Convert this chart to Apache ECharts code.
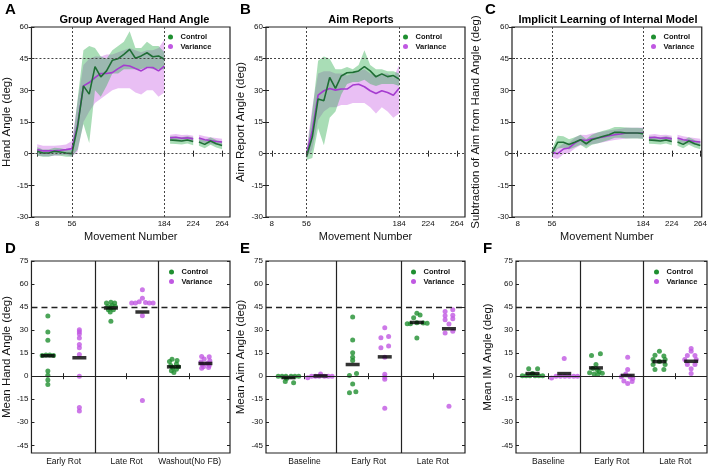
<!DOCTYPE html>
<html><head><meta charset="utf-8">
<script src="https://cdn.jsdelivr.net/npm/echarts@6/dist/echarts.min.js"></script>
<style>html,body{margin:0;padding:0;background:#fff}#c{width:710px;height:466px}</style>
</head><body><div id="c"></div>
<script>
// ---------------- DATA ----------------
const xTickLabels = [8, 56, 184, 224, 264];
const yBotTicks = [-45, -30, -15, 0, 15, 30, 45, 60, 75];
const catsD = ['Early Rot', 'Late Rot', 'Washout(No FB)'];
const catsEF = ['Baseline', 'Early Rot', 'Late Rot'];

// movement bins
const aX = [8, 16, 24, 32, 40, 48, 56, 64, 72, 80, 88, 96, 104, 112, 120, 128, 136, 144, 152, 160, 168, 176, 184];
const rotX = [56, 64, 72, 80, 88, 96, 104, 112, 120, 128, 136, 144, 152, 160, 168, 176, 184];
const wash1X = [192, 200, 208, 216, 224];
const wash2X = [232, 240, 248, 256, 264];

// Panel A: hand angle (baseline + rotation)
const handCtrl   = [1.1, 0.3, 0.3, 1.1, 0.8, 0.3, 0.0, 13, 32.1, 28.2, 41.2, 36.4, 39.2, 44.2, 45.0, 47.0, 49.4, 45.2, 46.3, 47.8, 45.9, 46.3, 44.7];
const handCtrlLo = [-1.0, -1.5, -1.5, -0.8, -1.0, -1.5, -1.5, 2, 14, 5, 30, 27, 32, 38, 38, 40, 40, 40, 40, 41, 40, 40, 40];
const handCtrlHi = [3.0, 2.0, 2.0, 2.8, 2.6, 2.0, 1.8, 26, 49, 51, 50, 46, 45, 49, 51, 53, 58, 50, 50, 53, 51, 51, 48];
const handVar    = [1.9, 1.3, 1.3, 1.4, 1.6, 1.9, 2.4, 14, 32.1, 33.7, 36.0, 38.0, 38.0, 38.4, 40.3, 41.9, 41.5, 40.3, 39.2, 40.8, 40.8, 39.2, 41.5];
const handVarLo  = [-0.8, -1.2, -1.2, -1.0, -0.8, -0.6, -1.5, 1, 15, 20, 24, 26, 28, 30, 31, 31, 31, 29, 28, 30, 30, 27, 29];
const handVarHi  = [4.5, 3.8, 3.8, 3.8, 4.0, 4.4, 6.0, 25, 42, 45, 46, 46, 47, 47, 48, 49, 50, 49, 48, 49, 49, 50, 54];

// washout (no feedback) hand angle, shown in A and C
const w1Ctrl = [6.5, 6.3, 6.0, 6.5, 5.8], w1CtrlLo = [4.7, 4.6, 4.3, 4.8, 4.0], w1CtrlHi = [8.3, 8.0, 7.8, 8.2, 7.6];
const w1Var  = [7.5, 7.8, 7.3, 7.5, 7.0], w1VarLo  = [6.0, 6.3, 5.8, 6.0, 5.5], w1VarHi  = [9.0, 9.3, 8.8, 9.0, 8.5];
const w2Ctrl = [5.5, 4.4, 6.0, 4.7, 3.9], w2CtrlLo = [3.7, 2.6, 4.2, 2.9, 2.1], w2CtrlHi = [7.3, 6.2, 7.8, 6.5, 5.7];
const w2Var  = [7.4, 6.6, 6.2, 5.8, 5.5], w2VarLo  = [5.8, 5.0, 4.6, 4.2, 3.9], w2VarHi  = [9.0, 8.2, 7.8, 7.4, 7.1];

// Panel B: aim reports
const aimCtrl   = [-1.5, 8, 25.9, 25.1, 36.1, 30.9, 36.8, 38.3, 38.5, 39.2, 41.2, 39.2, 36.4, 37.8, 36.5, 37.0, 35.3];
const aimCtrlLo = [-3, -2, 12, 4, 17, 20, 28, 33, 34, 34, 35, 33, 32, 33, 33, 33, 32];
const aimCtrlHi = [0, 20, 44, 46, 45, 40, 40, 41, 40, 42, 49, 42, 40, 40, 39, 39, 38];
const aimVar    = [-0.3, 11, 27.7, 29.8, 30.9, 30.1, 30.6, 30.6, 32.5, 32.9, 31.7, 29.8, 28.5, 29.8, 29.0, 27.7, 31.0];
const aimVarLo  = [-2, 2, 16, 20, 22, 22, 23, 23, 24, 24, 24, 22, 19, 22, 20, 17, 19];
const aimVarHi  = [2, 22, 38, 39, 39, 38, 38, 37, 38, 39, 40, 38, 37, 38, 38, 36, 42];

// Panel C: implicit learning
const imCtrl   = [0.3, 5.4, 5.4, 4.3, 5.4, 6.6, 4.7, 6.6, 7.4, 8.2, 9.0, 10.1, 10.1, 9.8, 9.8, 9.8, 9.5];
const imCtrlLo = [-1.5, 2.5, 2.8, 2.0, 3.0, 4.2, 2.5, 4.2, 4.8, 5.6, 6.5, 7.5, 7.5, 7.2, 7.2, 7.2, 7.0];
const imCtrlHi = [2.0, 8.5, 8.2, 6.8, 7.8, 9.0, 7.0, 9.0, 10.0, 10.8, 11.6, 12.6, 12.6, 12.4, 12.3, 12.3, 12.0];
const imVar    = [0.6, 0.0, 2.2, 2.7, 5.0, 6.6, 6.2, 7.0, 7.4, 7.9, 8.5, 9.0, 9.3, 9.8, 9.8, 9.8, 9.8];
const imVarLo  = [-1.8, -2.5, -0.3, 0.3, 2.5, 4.0, 3.7, 4.5, 4.9, 5.4, 6.0, 6.5, 6.8, 7.2, 7.3, 7.3, 7.2];
const imVarHi  = [3.0, 2.8, 4.8, 5.2, 7.5, 9.0, 8.8, 9.6, 10.0, 10.5, 11.0, 11.5, 11.8, 12.3, 12.3, 12.3, 12.4];

// Panel D: mean hand angle per subject (values, horizontal jitter)
const dCtrlEarly = [39.2, 28.8, 23.4, 13.5, 13.8, 13.8, 13.5, 3.4, 0.6, -2.4, -5.4];
const dCtrlEarlyJ = [0, 0, 0, -0.09, -0.03, 0.03, 0.09, 0, 0, 0, 0];
const dVarEarly = [30.3, 29.0, 27.4, 24.8, 20.6, 18.6, 14.2, 0.0, -20.4, -22.7];
const dVarEarlyJ = [0, 0, 0, 0, 0, 0, 0, 0, 0, 0];
const dCtrlLate = [47.6, 48.2, 47.6, 45.4, 46.1, 45.4, 43.3, 43.3, 41.8, 35.7, 44.5];
const dCtrlLateJ = [-0.07, 0, 0.06, -0.05, 0.02, 0.07, -0.04, 0.04, -0.01, 0, 0];
const dVarLate = [56.3, 50.8, 48.5, 48.0, 47.6, 47.6, 47.6, 47.6, 39.4, -15.8];
const dVarLateJ = [0, 0, -0.05, 0.05, -0.17, -0.11, 0.11, 0.17, 0, 0];
const dCtrlWash = [11.0, 10.2, 9.6, 8.0, 7.0, 6.2, 5.5, 4.6, 3.6, 2.4];
const dCtrlWashJ = [-0.03, 0.05, -0.07, 0.04, -0.05, 0.07, -0.02, 0.04, -0.04, 0];
const dVarWash = [12.8, 12.6, 11.2, 10.0, 9.2, 8.2, 7.6, 7.0, 6.2, 5.6, 5.2];
const dVarWashJ = [-0.06, 0.06, -0.02, 0.07, -0.07, 0.03, -0.05, 0.06, -0.03, 0.05, -0.06];
const dCtrlMeans = [13.3, 44.4, 6.1];
const dVarMeans = [12.0, 41.8, 8.3];

// Panel E: mean aim angle
const eCtrlBase = [0, 0, 0, 0, 0, 0, -1.5, -3.4, -4.3];
const eCtrlBaseJ = [-0.16, -0.10, -0.04, 0.04, 0.10, 0.16, -0.03, -0.05, 0.08];
const eVarBase = [-1.0, 0, 0, 0, 0, 0, 0, 1.5];
const eVarBaseJ = [-0.20, -0.14, -0.08, -0.02, 0.06, 0.12, 0.18, 0];
const eCtrlEarly = [38.6, 23.6, 15.2, 12.3, 10.2, 1.7, 0.4, -5.0, -10.1, -10.8];
const eCtrlEarlyJ = [0, 0, 0, 0, 0, 0.06, -0.05, 0, 0.05, -0.05];
const eVarEarly = [31.6, 25.0, 25.8, 18.6, 19.6, 12.4, 1.2, -0.6, -2.0, -20.8];
const eVarEarlyJ = [0, -0.06, 0.06, -0.06, 0.06, 0, 0, 0, 0, 0];
const eCtrlLate = [41.0, 39.8, 38.0, 34.2, 34.2, 34.8, 34.6, 34.4, 24.9];
const eCtrlLateJ = [0, 0.05, -0.05, -0.15, -0.10, 0, 0.10, 0.16, 0];
const eVarLate = [42.2, 43.2, 39.4, 39.6, 36.8, 37.4, 34.0, 28.1, 29.2, -19.5];
const eVarLateJ = [-0.06, 0.06, -0.06, 0.06, -0.06, 0.06, 0, -0.06, 0.06, 0];
const eCtrlMeans = [-0.9, 7.6, 35.0];
const eVarMeans = [0.2, 12.6, 30.9];

// Panel F: mean internal model angle
const fCtrlBase = [0.3, 0.3, 0.3, 0.3, 0.3, 0.3, 4.8, 4.8, 1.8];
const fCtrlBaseJ = [-0.16, -0.10, -0.04, 0.04, 0.10, 0.16, -0.06, 0.08, 0];
const fVarBase = [-1.1, 0, 0, 0, 0, 0, 0, 11.5];
const fVarBaseJ = [-0.20, -0.13, -0.06, 0.01, 0.08, 0.15, 0.21, 0];
const fCtrlEarly = [13.4, 14.6, 7.6, 5.0, 3.0, 2.2, 1.5, 1.2, 2.0, 4.2];
const fCtrlEarlyJ = [-0.07, 0.07, 0, -0.05, 0.05, -0.10, -0.03, 0.03, 0.10, 0.02];
const fVarEarly = [12.3, 4.3, 1.5, -0.4, -0.6, -3.2, -4.7, -3.5, -1.5];
const fVarEarlyJ = [0, 0, -0.03, -0.10, 0.04, -0.06, 0, 0.07, 0.08];
const fCtrlLate = [16.2, 13.6, 13.2, 10.8, 10.8, 9.5, 7.6, 7.6, 4.3, 4.3];
const fCtrlLateJ = [0, -0.07, 0.07, -0.10, 0.09, 0, -0.10, 0.09, -0.07, 0.07];
const fVarLate = [18.0, 16.2, 13.4, 13.4, 10.8, 10.8, 7.6, 7.6, 4.8, 1.7];
const fVarLateJ = [0, 0, -0.06, 0.06, -0.10, 0.08, -0.06, 0.06, 0, 0];
const fCtrlMeans = [1.7, 5.4, 9.5];
const fVarMeans = [1.7, 0.5, 9.7];

// ---------------- STYLE ----------------
const FONT = '"Liberation Sans", Arial, Helvetica, sans-serif';
const C_LINE = '#1f6e35', V_LINE = '#a53cd0';
const C_BAND = 'rgba(50,175,80,0.42)', V_BAND = 'rgba(200,95,228,0.40)';
const C_DOT = '#1f8f30', V_DOT = '#c058e2';
const INK = '#111';

const topGrids = [{left: 31, width: 199, max: 275}, {left: 266, width: 199, max: 275}, {left: 512, width: 191, max: 266}];
const botGrids = [{left: 31, width: 199, min: 0.49, max: 3.64}, {left: 266, width: 199, min: 0.4, max: 3.5}, {left: 516, width: 191, min: 0.49, max: 3.5}];
const topNames = ['Hand Angle (deg)', 'Aim Report Angle (deg)', 'Subtraction of Aim from Hand Angle (deg)'];
const topNameGaps = [17, 19, 30];
const botNames = ['Mean Hand Angle (deg)', 'Mean Aim Angle (deg)', 'Mean IM Angle (deg)'];
const botNameGaps = [17, 19, 22];

const grid = [], xAxis = [], yAxis = [], series = [], legend = [];
const pairs = (xs, ys) => xs.map((x, i) => [x, ys[i]]);

topGrids.forEach((g, i) => {
  grid.push({left: g.left, top: 27, width: g.width, height: 190, show: true, borderColor: '#222', borderWidth: 1.2, backgroundColor: 'transparent'});
  xAxis.push({gridIndex: i, type: 'value', min: 0, max: g.max, axisLine: {show: false},
    axisTick: {inside: true, length: 3, customValues: xTickLabels, lineStyle: {color: '#222'}},
    axisLabel: {customValues: xTickLabels, fontSize: 8, margin: 3, color: INK, fontFamily: FONT},
    splitLine: {show: false}, name: 'Movement Number', nameLocation: 'middle', nameGap: 14,
    nameTextStyle: {fontSize: 11, color: INK, fontFamily: FONT}});
  xAxis.push({gridIndex: i, type: 'value', position: 'top', min: 0, max: g.max, axisLine: {show: false},
    axisTick: {inside: true, length: 3, customValues: xTickLabels, lineStyle: {color: '#222'}},
    axisLabel: {show: false}, splitLine: {show: false}});
  yAxis.push({gridIndex: i, type: 'value', min: -30, max: 60, interval: 15, axisLine: {show: false},
    axisTick: {inside: true, length: 3, lineStyle: {color: '#222'}},
    axisLabel: {fontSize: 8, margin: 3, color: INK, fontFamily: FONT}, splitLine: {show: false},
    name: topNames[i], nameLocation: 'middle', nameGap: topNameGaps[i],
    nameTextStyle: {fontSize: 11.5, color: INK, fontFamily: FONT}});
  yAxis.push({gridIndex: i, type: 'value', position: 'right', min: -30, max: 60, interval: 15, axisLine: {show: false},
    axisTick: {inside: true, length: 3, lineStyle: {color: '#222'}}, axisLabel: {show: false}, splitLine: {show: false}});
});
botGrids.forEach((g, j) => {
  const i = j + 3;
  const cats = j === 0 ? catsD : catsEF;
  grid.push({left: g.left, top: 261, width: g.width, height: 192, show: true, borderColor: '#222', borderWidth: 1.2, backgroundColor: 'transparent'});
  xAxis.push({gridIndex: i, type: 'value', min: g.min, max: g.max, axisLine: {show: false},
    axisTick: {inside: true, length: 3, customValues: [1, 2, 3], lineStyle: {color: '#222'}},
    axisLabel: {customValues: [1, 2, 3], formatter: v => cats[Math.round(v) - 1], fontSize: 8.5, margin: 4, color: INK, fontFamily: FONT},
    splitLine: {show: false}});
  xAxis.push({gridIndex: i, type: 'value', position: 'top', min: g.min, max: g.max, axisLine: {show: false},
    axisTick: {inside: true, length: 3, customValues: [1, 2, 3], lineStyle: {color: '#222'}},
    axisLabel: {show: false}, splitLine: {show: false}});
  yAxis.push({gridIndex: i, type: 'value', min: -50, max: 75, axisLine: {show: false},
    axisTick: {inside: true, length: 3, customValues: yBotTicks, lineStyle: {color: '#222'}},
    axisLabel: {customValues: yBotTicks, fontSize: 8, margin: 3, color: INK, fontFamily: FONT}, splitLine: {show: false},
    name: botNames[j], nameLocation: 'middle', nameGap: botNameGaps[j],
    nameTextStyle: {fontSize: 11.5, color: INK, fontFamily: FONT}});
  yAxis.push({gridIndex: i, type: 'value', position: 'right', min: -50, max: 75, axisLine: {show: false},
    axisTick: {inside: true, length: 3, customValues: yBotTicks, lineStyle: {color: '#222'}},
    axisLabel: {show: false}, splitLine: {show: false}});
});

// shaded error band: one polygon through the axis scales
function band(g, xs, lo, hi, color) {
  series.push({type: 'custom', xAxisIndex: 2 * g, yAxisIndex: 2 * g, silent: true, z: 1, animation: false,
    data: xs.map((x, k) => [x, lo[k], hi[k]]),
    encode: {x: 0, y: [1, 2]},
    renderItem: function (params, api) {
      if (params.dataIndex !== 0) return null;
      const pts = [];
      for (let k = 0; k < xs.length; k++) pts.push(api.coord([xs[k], hi[k]]));
      for (let k = xs.length - 1; k >= 0; k--) pts.push(api.coord([xs[k], lo[k]]));
      return {type: 'polygon', shape: {points: pts}, style: {fill: color, stroke: null}};
    }});
}
function line(g, name, xs, ys, color, extra) {
  series.push(Object.assign({type: 'line', name: name, xAxisIndex: 2 * g, yAxisIndex: 2 * g, data: pairs(xs, ys),
    symbol: 'none', lineStyle: {color: color, width: 1.6}, itemStyle: {color: color}, z: 3, silent: true, animation: false}, extra || {}));
}
const dotted = {type: [2, 2], color: '#444', width: 1};
function topRefLines() {
  return {markLine: {silent: true, symbol: 'none', label: {show: false}, animation: false, lineStyle: dotted,
    data: [{yAxis: 45}, {yAxis: 0}, {xAxis: 56}, {xAxis: 184}]}};
}

// Panel A
band(0, aX, handVarLo, handVarHi, V_BAND);
band(0, aX, handCtrlLo, handCtrlHi, C_BAND);
band(0, wash1X, w1VarLo, w1VarHi, V_BAND); band(0, wash1X, w1CtrlLo, w1CtrlHi, C_BAND);
band(0, wash2X, w2VarLo, w2VarHi, V_BAND); band(0, wash2X, w2CtrlLo, w2CtrlHi, C_BAND);
line(0, 'Variance', aX, handVar, V_LINE);
line(0, 'Control', aX, handCtrl, C_LINE, topRefLines());
line(0, 'Variance', wash1X, w1Var, V_LINE); line(0, 'Control', wash1X, w1Ctrl, C_LINE);
line(0, 'Variance', wash2X, w2Var, V_LINE); line(0, 'Control', wash2X, w2Ctrl, C_LINE);
// Panel B
band(1, rotX, aimVarLo, aimVarHi, V_BAND);
band(1, rotX, aimCtrlLo, aimCtrlHi, C_BAND);
line(1, 'Variance', rotX, aimVar, V_LINE);
line(1, 'Control', rotX, aimCtrl, C_LINE, topRefLines());
// Panel C
band(2, rotX, imVarLo, imVarHi, V_BAND);
band(2, rotX, imCtrlLo, imCtrlHi, C_BAND);
band(2, wash1X, w1VarLo, w1VarHi, V_BAND); band(2, wash1X, w1CtrlLo, w1CtrlHi, C_BAND);
band(2, wash2X, w2VarLo, w2VarHi, V_BAND); band(2, wash2X, w2CtrlLo, w2CtrlHi, C_BAND);
line(2, 'Variance', rotX, imVar, V_LINE);
line(2, 'Control', rotX, imCtrl, C_LINE, topRefLines());
line(2, 'Variance', wash1X, w1Var, V_LINE); line(2, 'Control', wash1X, w1Ctrl, C_LINE);
line(2, 'Variance', wash2X, w2Var, V_LINE); line(2, 'Control', wash2X, w2Ctrl, C_LINE);

// Bottom panels
function dots(g, name, center, ys, js, color, extra) {
  series.push(Object.assign({type: 'scatter', name: name, xAxisIndex: 2 * g, yAxisIndex: 2 * g,
    data: ys.map((y, k) => [center + js[k], y]), symbolSize: 5, itemStyle: {color: color}, z: 3, silent: true, animation: false}, extra || {}));
}
function means(g, centers, ms) {
  series.push({type: 'scatter', xAxisIndex: 2 * g, yAxisIndex: 2 * g, data: centers.map((c, k) => [c, ms[k]]),
    symbol: 'rect', symbolSize: [14, 3.5], itemStyle: {color: '#000'}, z: 4, silent: true, animation: false});
}
function botRefLines() {
  return {markLine: {silent: true, symbol: 'none', label: {show: false}, animation: false,
    data: [
      {xAxis: 1.5, lineStyle: {type: 'solid', color: '#222', width: 1.2}},
      {xAxis: 2.5, lineStyle: {type: 'solid', color: '#222', width: 1.2}},
      {yAxis: 0, lineStyle: {type: 'solid', color: '#222', width: 1.2}},
      {yAxis: 45, lineStyle: {type: [6, 4], color: '#222', width: 1.4}}
    ]}};
}
const cc = [0.75, 1.75, 2.75], vc = [1.25, 2.25, 3.25];
// D
dots(3, 'Control', cc[0], dCtrlEarly, dCtrlEarlyJ, C_DOT, botRefLines());
dots(3, 'Control', cc[1], dCtrlLate, dCtrlLateJ, C_DOT);
dots(3, 'Control', cc[2], dCtrlWash, dCtrlWashJ, C_DOT);
dots(3, 'Variance', vc[0], dVarEarly, dVarEarlyJ, V_DOT);
dots(3, 'Variance', vc[1], dVarLate, dVarLateJ, V_DOT);
dots(3, 'Variance', vc[2], dVarWash, dVarWashJ, V_DOT);
means(3, cc, dCtrlMeans); means(3, vc, dVarMeans);
// E
dots(4, 'Control', cc[0], eCtrlBase, eCtrlBaseJ, C_DOT, botRefLines());
dots(4, 'Control', cc[1], eCtrlEarly, eCtrlEarlyJ, C_DOT);
dots(4, 'Control', cc[2], eCtrlLate, eCtrlLateJ, C_DOT);
dots(4, 'Variance', vc[0], eVarBase, eVarBaseJ, V_DOT);
dots(4, 'Variance', vc[1], eVarEarly, eVarEarlyJ, V_DOT);
dots(4, 'Variance', vc[2], eVarLate, eVarLateJ, V_DOT);
means(4, cc, eCtrlMeans); means(4, vc, eVarMeans);
// F
dots(5, 'Control', cc[0], fCtrlBase, fCtrlBaseJ, C_DOT, botRefLines());
dots(5, 'Control', cc[1], fCtrlEarly, fCtrlEarlyJ, C_DOT);
dots(5, 'Control', cc[2], fCtrlLate, fCtrlLateJ, C_DOT);
dots(5, 'Variance', vc[0], fVarBase, fVarBaseJ, V_DOT);
dots(5, 'Variance', vc[1], fVarEarly, fVarEarlyJ, V_DOT);
dots(5, 'Variance', vc[2], fVarLate, fVarLateJ, V_DOT);
means(5, cc, fCtrlMeans); means(5, vc, fVarMeans);

// legends
const legPos = [[168, 33], [403, 33], [651, 33], [169, 268], [411, 268], [654, 268]];
legPos.forEach(p => legend.push({
  left: p[0], top: p[1], orient: 'vertical', itemWidth: 10, itemHeight: 5, itemGap: 1.5, padding: 0,
  icon: 'circle', selectedMode: false,
  data: [{name: 'Control', itemStyle: {color: C_DOT}}, {name: 'Variance', itemStyle: {color: V_DOT}}],
  textStyle: {fontSize: 7.5, fontWeight: 'bold', color: INK, fontFamily: FONT}
}));

// texts
const letters = [['A', 5, 10], ['B', 240, 10], ['C', 485, 10], ['D', 5, 249], ['E', 240, 249], ['F', 483, 249]];
const titles = [['Group Averaged Hand Angle', 134.5, 20], ['Aim Reports', 361, 20], ['Implicit Learning of Internal Model', 608, 20]];
const graphic = [];
letters.forEach(l => graphic.push({type: 'text', x: l[1], y: l[2], style: {text: l[0], font: 'bold 15px ' + FONT, fill: '#000', textAlign: 'left', textVerticalAlign: 'middle'}}));
titles.forEach(t => graphic.push({type: 'text', x: t[1], y: t[2], style: {text: t[0], font: 'bold 11px ' + FONT, fill: '#000', textAlign: 'center', textVerticalAlign: 'middle'}}));

const chart = echarts.init(document.getElementById('c'));
chart.setOption({
  animation: false,
  backgroundColor: '#fff',
  textStyle: {fontFamily: FONT},
  grid, xAxis, yAxis, series, legend, graphic
});
</script></body></html>
